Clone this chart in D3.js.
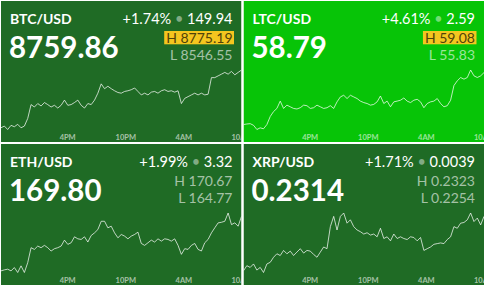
<!DOCTYPE html>
<html>
<head>
<meta charset="utf-8">
<script src="https://cdn.jsdelivr.net/npm/d3@7"></script>
<style>
  html, body { margin: 0; padding: 0; background: #fff; }
  svg { display: block; font-family: Lato, "Open Sans", sans-serif; }
</style>
</head>
<body>
<svg id="board"></svg>
<script>
const WIDTH = 484;
const HEIGHT = 290;

// Ticker data
const SYMBOLS = ['BTC/USD', 'LTC/USD', 'ETH/USD', 'XRP/USD'];
const LAST_PRICES = ['8759.86', '58.79', '169.80', '0.2314'];
const CHANGE_PCT = ['+1.74%', '+4.61%', '+1.99%', '+1.71%'];
const CHANGE_ABS = ['149.94', '2.59', '3.32', '0.0039'];
const HIGHS = ['8775.19', '59.08', '170.67', '0.2323'];
const LOWS = ['8546.55', '55.83', '164.77', '0.2254'];
const HIGH_FLAGGED = [true, true, false, false];

const TICK_LABELS = ['4PM', '10PM', '4AM', '10AM'];
const TICK_TIMES = [
    new Date(2019, 9, 8, 16, 0),
    new Date(2019, 9, 8, 22, 0),
    new Date(2019, 9, 9, 4, 0),
    new Date(2019, 9, 9, 10, 0),
];
const SERIES_START = new Date(2019, 9, 8, 9, 10);
const SERIES_END = new Date(2019, 9, 9, 10, 0);

// Prices (about every 20 minutes)
const btcPrices = [
    8553.2, 8559.8, 8546.6, 8562.5, 8557.2, 8566.5, 8553.2, 8559.8, 8589.1, 8642.3,
    8633.0, 8646.2, 8637.0, 8650.2, 8642.3, 8633.0, 8639.6, 8629.0, 8639.6, 8659.5,
    8639.6, 8642.3, 8650.2, 8659.5, 8639.6, 8629.0, 8646.2, 8642.3, 8659.5, 8686.1,
    8722.0, 8703.4, 8712.7, 8703.4, 8695.4, 8688.8, 8686.1, 8692.8, 8695.4, 8699.4,
    8706.1, 8692.8, 8679.5, 8686.1, 8679.5, 8690.1, 8692.8, 8686.1, 8695.4, 8699.4,
    8692.8, 8695.4, 8690.1, 8695.4, 8646.2, 8666.2, 8672.8, 8679.5, 8686.1, 8679.5,
    8686.1, 8679.5, 8682.1, 8745.9, 8745.9, 8752.6, 8759.2, 8765.9, 8759.2, 8769.9,
    8756.6, 8765.9, 8775.2
];
const ltcPrices = [
    56.10, 56.13, 56.15, 56.06, 55.83, 55.92, 55.87, 56.10, 56.54, 56.81,
    56.98, 57.38, 56.98, 57.16, 57.07, 56.98, 56.95, 57.02, 57.16, 57.13,
    56.98, 57.02, 57.16, 57.07, 56.98, 57.02, 57.13, 56.98, 57.34, 57.61,
    57.70, 57.52, 57.70, 57.61, 57.52, 57.38, 57.30, 57.25, 57.16, 57.20,
    57.34, 57.66, 57.25, 57.38, 57.07, 57.34, 57.38, 57.43, 57.55, 57.38,
    57.30, 57.43, 57.48, 57.34, 57.02, 57.25, 57.34, 57.38, 57.52, 57.25,
    57.07, 57.13, 57.43, 58.23, 58.49, 58.67, 58.58, 58.67, 59.08, 58.76,
    58.67, 58.76, 58.94
];
const ethPrices = [
    164.93, 165.03, 165.10, 164.93, 165.26, 164.77, 165.43, 164.77, 165.75, 167.23,
    167.06, 167.39, 167.23, 167.46, 167.23, 166.90, 167.13, 167.23, 167.39, 167.98,
    167.56, 167.72, 168.31, 168.11, 168.05, 168.31, 167.79, 168.44, 168.70, 169.03,
    169.85, 169.85, 169.20, 169.36, 168.70, 168.21, 168.54, 168.38, 168.11, 168.38,
    168.54, 168.77, 167.65, 167.46, 167.72, 167.98, 167.79, 168.11, 167.88, 168.11,
    168.05, 167.88, 168.11, 167.46, 166.57, 167.13, 167.06, 167.46, 167.65, 167.06,
    166.90, 167.72, 168.05, 168.70, 169.20, 169.69, 169.75, 169.85, 170.67, 169.52,
    169.69, 169.36, 170.34
];
const xrpPrices = [
    0.22560, 0.22619, 0.22599, 0.22639, 0.22568, 0.22599, 0.22540, 0.22639, 0.22658, 0.22717,
    0.22757, 0.22737, 0.22796, 0.22757, 0.22788, 0.22737, 0.22777, 0.22816, 0.22765, 0.22796,
    0.22788, 0.22749, 0.22717, 0.22777, 0.22836, 0.22816, 0.23072, 0.23191, 0.23033, 0.23191,
    0.23230, 0.23112, 0.23151, 0.23072, 0.23033, 0.23013, 0.22986, 0.23001, 0.22974, 0.22986,
    0.22954, 0.23053, 0.22934, 0.22954, 0.22907, 0.22986, 0.22934, 0.22954, 0.22934, 0.22922,
    0.22954, 0.22946, 0.22907, 0.22946, 0.22796, 0.22816, 0.22836, 0.22867, 0.22875, 0.22883,
    0.22875, 0.22922, 0.22954, 0.23072, 0.23053, 0.23112, 0.23120, 0.23151, 0.23230, 0.23131,
    0.23171, 0.23092, 0.23191
];
const SERIES = [btcPrices, ltcPrices, ethPrices, xrpPrices];

// Styling
const DARK_GREEN = '#1f6b25';
const BRIGHT_GREEN = '#07c407';
const PANEL_COLORS = [DARK_GREEN, BRIGHT_GREEN, DARK_GREEN, DARK_GREEN];
const FLAG_YELLOW = '#f4c61f';

const ORIGIN = 1;
const GAP = 2;
const PANEL_W = 240.5;
const PANEL_H = 141;
const TEXT_RIGHT = 231.5;

function start() {
    let board = d3.select('#board')
        .attr('width', WIDTH)
        .attr('height', HEIGHT);

    let timeScale = d3.scaleTime()
        .domain([SERIES_START, SERIES_END])
        .range([0, PANEL_W]);

    SYMBOLS.forEach((symbol, i) => {
        let col = i % 2;
        let row = Math.floor(i / 2);

        // nested svg clips the cut-off "10AM" label like the original
        let panel = board.append('svg')
            .attr('x', ORIGIN + col * (PANEL_W + GAP))
            .attr('y', ORIGIN + row * (PANEL_H + GAP))
            .attr('width', PANEL_W)
            .attr('height', PANEL_H);

        panel.append('rect')
            .attr('width', PANEL_W)
            .attr('height', PANEL_H)
            .attr('fill', PANEL_COLORS[i]);

        // Sparkline
        let values = SERIES[i];
        let xScale = d3.scaleLinear()
            .domain([0, values.length - 1])
            .range([0, PANEL_W]);
        let yScale = d3.scaleLinear()
            .domain(d3.extent(values))
            .range([128.5, 69]);

        panel.append('path')
            .datum(values)
            .attr('fill', 'none')
            .attr('stroke', '#fff')
            .attr('stroke-opacity', 0.72)
            .attr('stroke-width', 1)
            .attr('stroke-linejoin', 'round')
            .attr('d', d3.line()
                .x((d, k) => xScale(k))
                .y(d => yScale(d)));

        // Time axis
        let axis = d3.axisBottom(timeScale)
            .tickValues(TICK_TIMES)
            .tickFormat((d, k) => TICK_LABELS[k])
            .tickSize(0)
            .tickPadding(0);
        let axisG = panel.append('g')
            .attr('transform', 'translate(0, 138.5)')
            .call(axis)
            .attr('font-family', 'Lato, sans-serif')
            .attr('font-size', 7.5)
            .attr('font-weight', 'bold');
        axisG.select('.domain').remove();
        axisG.selectAll('text')
            .attr('y', 0)
            .attr('dy', null)
            .attr('fill', '#fff')
            .attr('fill-opacity', 0.6);

        // Symbol and last price
        panel.append('text')
            .attr('x', 9)
            .attr('y', 23)
            .attr('fill', '#fff')
            .attr('font-size', 14)
            .attr('font-weight', 'bold')
            .text(symbol);

        panel.append('text')
            .attr('x', 8)
            .attr('y', 57)
            .attr('fill', '#fff')
            .attr('font-size', 29.5)
            .attr('font-weight', 'bold')
            .text(LAST_PRICES[i]);

        // Change
        let change = panel.append('text')
            .attr('x', TEXT_RIGHT)
            .attr('y', 23)
            .attr('text-anchor', 'end')
            .attr('fill', '#fff')
            .attr('font-size', 14.5);
        change.append('tspan').text(CHANGE_PCT[i]);
        change.append('tspan').attr('fill-opacity', 0.45).text(' \u2022 ');
        change.append('tspan').text(CHANGE_ABS[i]);

        // High / low
        let high = panel.append('text')
            .attr('x', TEXT_RIGHT)
            .attr('y', 41.5)
            .attr('text-anchor', 'end')
            .attr('font-size', 14)
            .attr('fill', HIGH_FLAGGED[i] ? '#4f4309' : '#fff')
            .attr('fill-opacity', HIGH_FLAGGED[i] ? 1 : 0.6)
            .text('H ' + HIGHS[i]);

        if (HIGH_FLAGGED[i]) {
            let bb = high.node().getBBox();
            panel.insert('rect', () => high.node())
                .attr('x', bb.x - 2)
                .attr('y', 30)
                .attr('width', bb.width + 3.5)
                .attr('height', 13.3)
                .attr('fill', FLAG_YELLOW);
        }

        panel.append('text')
            .attr('x', TEXT_RIGHT)
            .attr('y', 58.5)
            .attr('text-anchor', 'end')
            .attr('font-size', 14)
            .attr('fill', '#fff')
            .attr('fill-opacity', 0.6)
            .text('L ' + LOWS[i]);
    });
}

window.onload = start;
</script>
</body>
</html>
